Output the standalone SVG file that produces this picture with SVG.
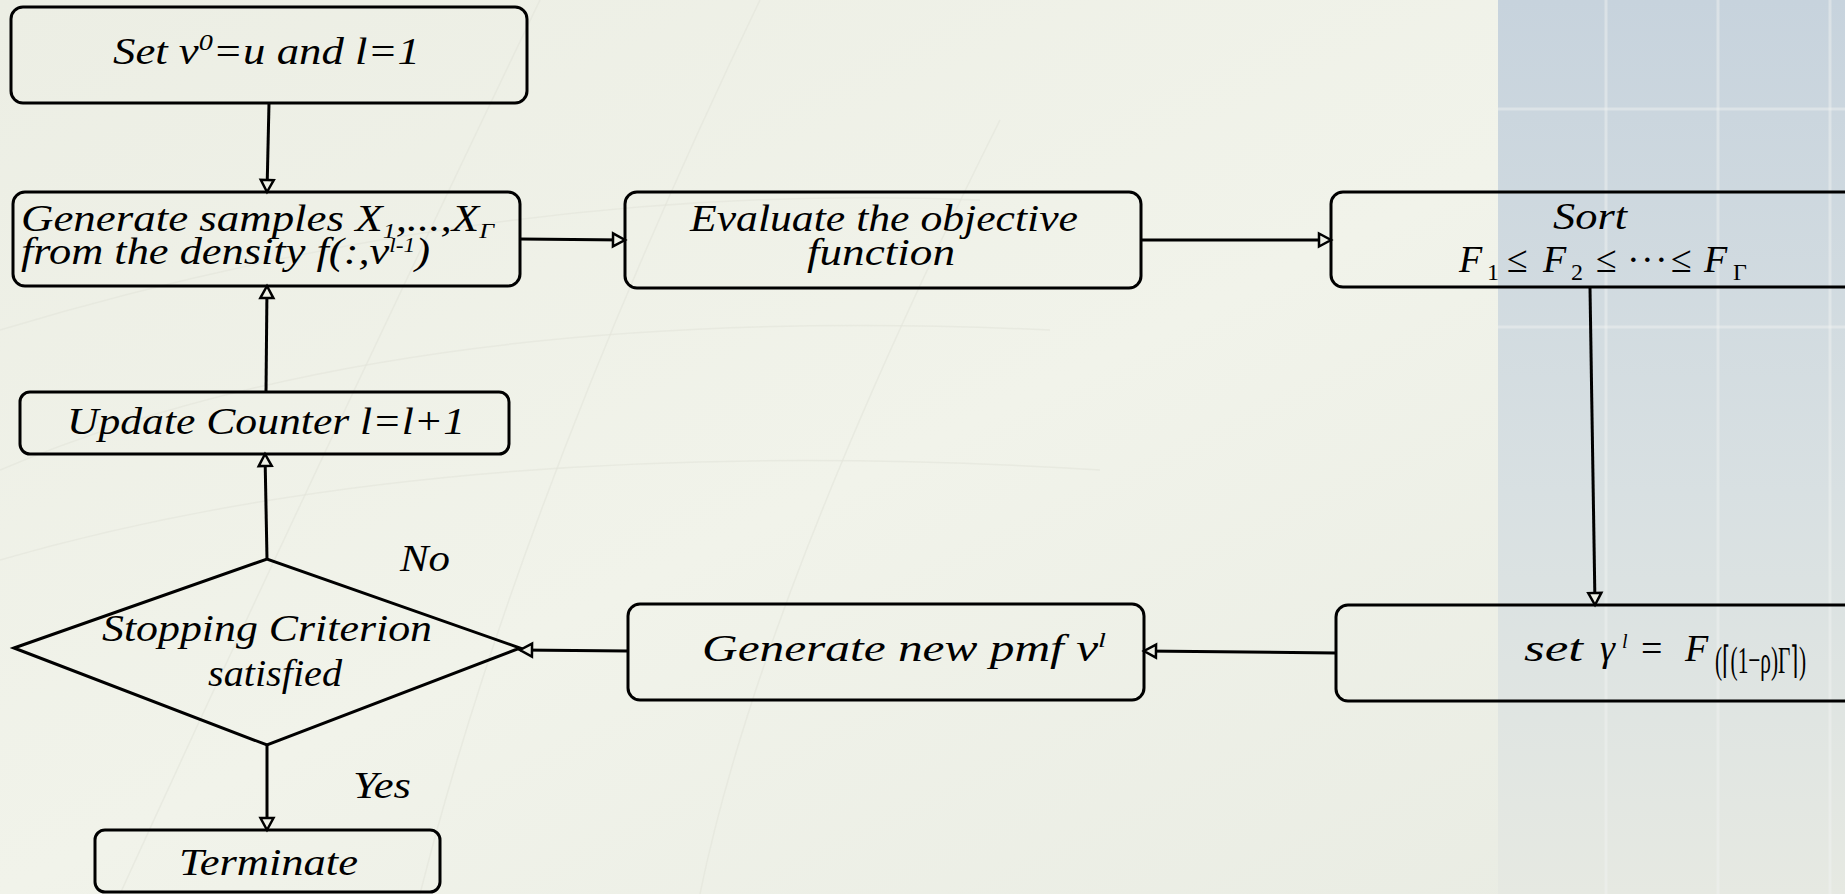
<svg xmlns="http://www.w3.org/2000/svg" width="1845" height="894" viewBox="0 0 1845 894">
<defs>
<linearGradient id="bg" x1="0" y1="0" x2="1" y2="1">
<stop offset="0" stop-color="#eceee4"/>
<stop offset="0.5" stop-color="#f1f3ea"/>
<stop offset="1" stop-color="#e8ebe2"/>
</linearGradient>
<linearGradient id="band" x1="0" y1="0" x2="0" y2="1">
<stop offset="0" stop-color="#c7d3dd"/>
<stop offset="0.55" stop-color="#d8e0e2"/>
<stop offset="1" stop-color="#e6e9e2"/>
</linearGradient>
<marker id="ah" markerUnits="userSpaceOnUse" markerWidth="18" markerHeight="18" viewBox="-15 -9 18 18" refX="0" refY="0" orient="auto">
<path d="M-12,-6.5 L0,0 L-12,6.5 Z" fill="#eef0e6" stroke="#000" stroke-width="2.5" stroke-linejoin="miter"/>
</marker>
<style>
.box{fill:none;stroke:#000;stroke-width:3}
.t{font-family:"Liberation Serif","Times New Roman",serif;font-style:italic;font-size:38px;fill:#000}
.m{font-family:"Liberation Serif","Times New Roman",serif;font-size:38px;fill:#000}
.c{stroke:#000;stroke-width:3;fill:none;marker-end:url(#ah)}
.grid{stroke:#f2f4f2;stroke-width:3;opacity:0.45}
.web{stroke:#e2e5da;stroke-width:1.5;fill:none;opacity:0.6}
</style>
</defs>
<rect x="0" y="0" width="1845" height="894" fill="url(#bg)"/>
<g id="background">
<path class="web" d="M0,470 Q400,300 1050,330"/>
<path class="web" d="M0,560 Q450,430 1100,470"/>
<path class="web" d="M120,894 Q300,500 540,0"/>
<path class="web" d="M420,894 Q520,500 760,0"/>
<path class="web" d="M700,894 Q760,600 1000,120"/>
<path class="web" d="M0,330 Q500,180 980,200"/>
<rect x="1498" y="0" width="347" height="894" fill="url(#band)"/>
<line class="grid" x1="1606" y1="0" x2="1606" y2="894"/>
<line class="grid" x1="1718" y1="0" x2="1718" y2="894"/>
<line class="grid" x1="1830" y1="0" x2="1830" y2="894"/>
<line class="grid" x1="1498" y1="109" x2="1845" y2="109"/>
<line class="grid" x1="1498" y1="327" x2="1845" y2="327"/>
</g>
<g id="connectors">
<line class="c" x1="269" y1="103" x2="267" y2="192"/>
<line class="c" x1="520" y1="239" x2="625" y2="240"/>
<line class="c" x1="1141" y1="240" x2="1331" y2="240"/>
<line class="c" x1="1590" y1="288" x2="1595" y2="605"/>
<line class="c" x1="1336" y1="653" x2="1144" y2="651"/>
<line class="c" x1="628" y1="651" x2="520" y2="650"/>
<line class="c" x1="267" y1="559" x2="265" y2="454"/>
<line class="c" x1="266" y1="392" x2="267" y2="286"/>
<line class="c" x1="267" y1="745" x2="267" y2="830"/>
</g>
<g id="n-set">
<rect class="box" x="11" y="7" width="516" height="96" rx="12"/>
<text class="t" x="113" y="64" textLength="307" lengthAdjust="spacingAndGlyphs">Set  v<tspan dy="-14" font-size="24">0</tspan><tspan dy="14">=u and l=1</tspan></text>
</g>
<g id="n-generate">
<rect class="box" x="13" y="192" width="507" height="94" rx="12"/>
<text class="t" x="21" y="231" font-size="35" textLength="473" lengthAdjust="spacingAndGlyphs">Generate samples X<tspan dy="7" font-size="22">1</tspan><tspan dy="-7">,...,X</tspan><tspan dy="7" font-size="22">Γ</tspan></text>
<text class="t" x="21" y="264" font-size="35" textLength="409" lengthAdjust="spacingAndGlyphs">from the density f(:,v<tspan dy="-12" font-size="20">l-1</tspan><tspan dy="12">)</tspan></text>
</g>
<g id="n-evaluate">
<rect class="box" x="625" y="192" width="516" height="96" rx="12"/>
<text class="t" x="690" y="231" textLength="388" lengthAdjust="spacingAndGlyphs">Evaluate the objective</text>
<text class="t" x="807" y="265" textLength="148" lengthAdjust="spacingAndGlyphs">function</text>
</g>
<g id="n-sort">
<rect class="box" x="1331" y="192" width="530" height="95" rx="12"/>
<text class="t" x="1553" y="229" textLength="74" lengthAdjust="spacingAndGlyphs">Sort</text>
<text class="m" y="272"><tspan x="1459" font-style="italic">F</tspan><tspan x="1487" dy="8" font-size="24">1</tspan><tspan x="1507" dy="-8">≤</tspan><tspan x="1543" font-style="italic">F</tspan><tspan x="1571" dy="8" font-size="24">2</tspan><tspan x="1596" dy="-8">≤</tspan><tspan x="1627 1641 1655">···</tspan><tspan x="1671">≤</tspan><tspan x="1704" font-style="italic">F</tspan><tspan x="1733" dy="8" font-size="24">Γ</tspan></text>
</g>
<g id="n-gamma">
<rect class="box" x="1336" y="605" width="525" height="96" rx="12"/>
<text class="t" x="1524" y="661" font-size="35" textLength="59" lengthAdjust="spacingAndGlyphs">set</text>
<text class="m" y="661" font-size="36"><tspan x="1600" font-style="italic">γ</tspan><tspan x="1622" dy="-13" font-size="20" font-style="italic">l</tspan><tspan x="1641" dy="13">=</tspan><tspan x="1685" font-style="italic">F</tspan></text>
<text class="m" x="1715" y="673" font-size="22" textLength="91" lengthAdjust="spacingAndGlyphs">(⌈(1−ρ)Γ⌉)</text>
</g>
<g id="n-pmf">
<rect class="box" x="628" y="604" width="516" height="96" rx="12"/>
<text class="t" x="702" y="661" textLength="404" lengthAdjust="spacingAndGlyphs">Generate new pmf  v<tspan dy="-14" font-size="22">l</tspan></text>
</g>
<g id="n-stop">
<polygon class="box" points="14,648 267,559 520,648 267,745"/>
<text class="t" x="102" y="641" textLength="330" lengthAdjust="spacingAndGlyphs">Stopping Criterion</text>
<text class="t" x="208" y="686" textLength="134" lengthAdjust="spacingAndGlyphs">satisfied</text>
</g>
<g id="n-update">
<rect class="box" x="20" y="392" width="489" height="62" rx="10"/>
<text class="t" x="67" y="434" textLength="398" lengthAdjust="spacingAndGlyphs">Update Counter l=l+1</text>
</g>
<g id="n-terminate">
<rect class="box" x="95" y="830" width="345" height="62" rx="10"/>
<text class="t" x="179" y="875" textLength="179" lengthAdjust="spacingAndGlyphs">Terminate</text>
</g>
<g id="labels">
<text class="t" x="400" y="571" textLength="50" lengthAdjust="spacingAndGlyphs">No</text>
<text class="t" x="353" y="798" textLength="58" lengthAdjust="spacingAndGlyphs">Yes</text>
</g>
</svg>
